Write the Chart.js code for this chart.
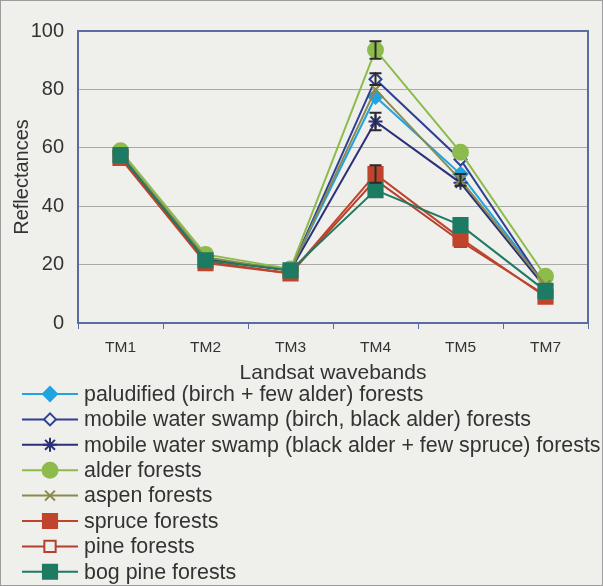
<!DOCTYPE html>
<html>
<head>
<meta charset="utf-8">
<script src="https://cdn.jsdelivr.net/npm/chart.js@4.4.1/dist/chart.umd.min.js"></script>
<style>
    html, body { margin: 0; padding: 0; background: #efefeb; }
    #chartElem { display: block; }
</style>
</head>
<body>
<canvas id="chartElem" width="603" height="586"></canvas>
<script>
// Data
const bands = ['TM1', 'TM2', 'TM3', 'TM4', 'TM5', 'TM7'];
const yTicks = [0, 20, 40, 60, 80, 100];

const seriesNames = [
    'paludified (birch + few alder) forests',
    'mobile water swamp (birch, black alder) forests',
    'mobile water swamp (black alder + few spruce) forests',
    'alder forests',
    'aspen forests',
    'spruce forests',
    'pine forests',
    'bog pine forests'
];

const paludified = [57.5, 22, 18, 77.5, 51, 13];
const swampBirch = [57.5, 22, 18, 83.5, 56, 12.5];
const swampAlder = [57.5, 22, 18, 69, 48, 12];
const alder      = [59, 23.5, 18.5, 93.5, 58.5, 16];
const aspen      = [58, 22.5, 18, 80, 49, 13];
const spruce     = [56.5, 20.5, 17, 51, 29, 9];
const pine       = [56.5, 21, 17, 49, 28, 9.5];
const bogPine    = [57.5, 21.5, 18, 45.5, 33.5, 11];

// error bar half-lengths (only shown at TM4 / TM5 in the figure)
const errSwampBirch = [0, 0, 0, 2, 0, 0];
const errSwampAlder = [0, 0, 0, 3, 0, 0];
const errAlder      = [0, 0, 0, 3, 0, 0];
const errAspen      = [0, 0, 0, 0, 2, 0];
const errSpruce     = [0, 0, 0, 3, 0, 0];

// draw order: higher = drawn earlier (underneath)
const drawOrder = [8, 7, 6, 5, 4, 2, 3, 1];

const bgColor = '#efefeb';
const textColor = '#333333';
const fontFamily = "'Liberation Sans', Arial, sans-serif";

const makeSeries = (i, data, color, style, fill, radius, errors) => {
    return {
        label: seriesNames[i],
        data: data,
        errors: errors || null,
        borderColor: color,
        backgroundColor: fill,
        pointBorderColor: color,
        pointBackgroundColor: fill,
        pointStyle: style,
        pointRadius: radius,
        pointBorderWidth: 2,
        borderWidth: 2,
        tension: 0,
        fill: false,
        order: drawOrder[i]
    };
};

const datasets = [
    makeSeries(0, paludified, '#22a3df', 'rectRot', '#22a3df', 7),
    makeSeries(1, swampBirch, '#2f3f95', 'rectRot', bgColor, 6, errSwampBirch),
    makeSeries(2, swampAlder, '#2b3078', 'star', '#2b3078', 7, errSwampAlder),
    makeSeries(3, alder, '#8dbb4c', 'circle', '#8dbb4c', 7.5, errAlder),
    makeSeries(4, aspen, '#8a8a4e', 'crossRot', '#8a8a4e', 7, errAspen),
    makeSeries(5, spruce, '#c0442c', 'rect', '#c0442c', 10, errSpruce),
    makeSeries(6, pine, '#b3412e', 'rect', bgColor, 8),
    makeSeries(7, bogPine, '#1d7a63', 'rect', '#1d7a63', 10)
];



// Background, plot frame, error bars and the legend
const decorPlugin = {
    id: 'decor',
    beforeDraw: (chart) => {
        const ctx = chart.ctx;
        ctx.save();
        ctx.fillStyle = bgColor;
        ctx.fillRect(0, 0, chart.width, chart.height);
        ctx.strokeStyle = '#9c9c9c';
        ctx.lineWidth = 1;
        ctx.strokeRect(0.5, 0.5, chart.width - 1, chart.height - 1);
        ctx.restore();
    },
    afterDatasetsDraw: (chart) => {
        const ctx = chart.ctx;
        const xScale = chart.scales.x;
        const yScale = chart.scales.y;
        ctx.save();
        ctx.strokeStyle = '#2a2a2a';
        ctx.lineWidth = 2;
        chart.data.datasets.forEach((ds) => {
            if (!ds.errors) return;
            ds.errors.forEach((e, idx) => {
                if (!e) return;
                const x = xScale.getPixelForValue(idx);
                const yTop = yScale.getPixelForValue(ds.data[idx] + e);
                const yBot = yScale.getPixelForValue(ds.data[idx] - e);
                ctx.beginPath();
                ctx.moveTo(x, yTop); ctx.lineTo(x, yBot);
                ctx.moveTo(x - 6, yTop); ctx.lineTo(x + 6, yTop);
                ctx.moveTo(x - 6, yBot); ctx.lineTo(x + 6, yBot);
                ctx.stroke();
            });
        });
        const area = chart.chartArea;
        ctx.strokeStyle = '#5c6ba2';
        ctx.lineWidth = 2;
        ctx.strokeRect(area.left, area.top, area.right - area.left, area.bottom - area.top);
        ctx.restore();
    },
    afterDraw: (chart) => {
        const ctx = chart.ctx;
        ctx.save();
        ctx.font = `21.4px ${fontFamily}`;
        ctx.textBaseline = 'middle';
        ctx.textAlign = 'left';
        chart.data.datasets.forEach((ds, i) => {
            const y = 394 + i * 25.4;
            ctx.strokeStyle = ds.borderColor;
            ctx.lineWidth = 2;
            ctx.beginPath();
            ctx.moveTo(22, y);
            ctx.lineTo(78, y);
            ctx.stroke();
            ctx.fillStyle = ds.pointBackgroundColor;
            ctx.strokeStyle = ds.pointBorderColor;
            Chart.helpers.drawPoint(ctx, {
                pointStyle: ds.pointStyle,
                radius: ds.pointRadius,
                rotation: 0,
                borderWidth: 2
            }, 50, y);
            ctx.fillStyle = textColor;
            ctx.fillText(ds.label, 84, y + 1);
        });
        ctx.restore();
    }
};

const chartElem = document.getElementById('chartElem');
const reflectanceChart = new Chart(chartElem, {
    type: 'line',
    data: {
        labels: bands,
        datasets: datasets
    },
    options: {
        responsive: false,
        animation: false,
        layout: {
            padding: { left: 0, right: 15, top: 31, bottom: 193 }
        },
        scales: {
            x: {
                offset: true,
                grid: {
                    display: true,
                    offset: true,
                    drawOnChartArea: false,
                    tickLength: 6,
                    color: '#5c6ba2'
                },
                border: { display: false },
                ticks: {
                    padding: 9,
                    color: textColor,
                    font: { family: fontFamily, size: 15.5 }
                },
                title: {
                    display: true,
                    text: 'Landsat wavebands',
                    color: textColor,
                    padding: { top: 0, bottom: 7 },
                    font: { family: fontFamily, size: 21 }
                },
                afterFit: (scale) => { scale.height = 70; }
            },
            y: {
                min: 0,
                max: 100,
                afterBuildTicks: (scale) => {
                    scale.ticks = yTicks.map((v) => ({ value: v }));
                },
                grid: {
                    color: '#a9a9a6',
                    lineWidth: 1,
                    drawTicks: false
                },
                border: { display: false },
                ticks: {
                    padding: 14,
                    color: textColor,
                    font: { family: fontFamily, size: 20 }
                },
                title: {
                    display: true,
                    text: 'Reflectances',
                    color: textColor,
                    padding: { top: 10, bottom: 0 },
                    font: { family: fontFamily, size: 20 }
                },
                afterFit: (scale) => { scale.width = 78; }
            }
        },
        plugins: {
            legend: { display: false },
            tooltip: { enabled: false }
        }
    },
    plugins: [decorPlugin]
});
</script>
</body>
</html>
